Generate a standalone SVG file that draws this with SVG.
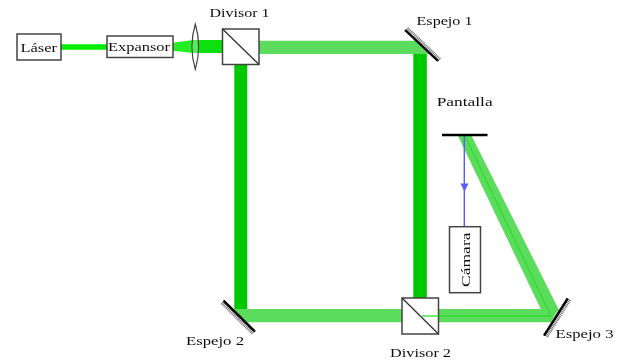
<svg xmlns="http://www.w3.org/2000/svg" width="618" height="360" viewBox="0 0 618 360">
<defs>
<filter id="soft" x="0" y="0" width="618" height="360" filterUnits="userSpaceOnUse"><feGaussianBlur stdDeviation="0.5"/></filter>
</defs>
<style>
text{font-family:"Liberation Serif","Times New Roman",serif;font-size:13.500px;fill:#111}
.box{fill:#fff;stroke:#444;stroke-width:1.500}
.mirror{stroke:#000;stroke-width:2.400;fill:none}
.shade{stroke:#777;stroke-width:4;stroke-dasharray:1 0.700;fill:none}
.dark{fill:#00c800}
.light{fill:#5cdc5c}
.core{stroke:#30dc30;stroke-width:1.300;fill:none}
.blue{stroke:#5a5aff;stroke-width:1.400;fill:none}
</style>
<rect width="618" height="360" fill="#fff"/>
<g filter="url(#soft)">
<g id="connectors">
<path d="M60 47H108" stroke="#00ee00" stroke-width="5.500" fill="none"/>
<path d="M173 42.700L193 40V53L173 50.700Z" fill="#22ee22"/>
<path d="M193 40H223V53H193Z" fill="#10e010"/>
<path class="dark" d="M234.300 64H247.300V324L234.300 311Z"/>
<path class="dark" d="M413.300 54H426.800V298H413.300Z"/>
<path class="light" d="M259 40.700H416L429 54H259Z"/>
<path class="light" d="M233 309H402V322.300H246Z"/>
<path class="light" d="M438 309H558L551 322.300H438Z"/>
<path class="light" d="M458 136H471.700L559 310L547 322Z"/>
<path class="core" d="M421.500 316H551L465 136"/>
<path class="blue" d="M464.300 135V227"/>
<path d="M460.500 183.500H468.500L464.500 191.500Z" fill="#5a5aff"/>
</g>
<g id="laser"><rect class="box" x="17" y="34" width="44" height="26"/><text x="20.500" y="52" textLength="36.500" lengthAdjust="spacingAndGlyphs">Láser</text></g>
<g id="expansor"><rect class="box" x="107" y="36" width="66" height="21.500" stroke="#666"/><text x="108" y="50.500" textLength="62" lengthAdjust="spacingAndGlyphs">Expansor</text></g>
<g id="lente"><path d="M195.300 24Q188.500 46.500 195.300 69.300Q202 46.500 195.300 24Z" fill="#fff" fill-opacity="0.300" stroke="#444" stroke-width="1.200"/></g>
<g id="divisor1"><rect class="box" x="222.500" y="29" width="36.500" height="35.500"/><path d="M222.500 29L259 64.500" stroke="#333" stroke-width="1.300"/><text x="209.500" y="17.300" textLength="60" lengthAdjust="spacingAndGlyphs">Divisor 1</text></g>
<g id="espejo1"><path class="shade" d="M407 28.500L440 60"/><path class="mirror" d="M405 30L438 61"/><text x="416.500" y="25" textLength="56" lengthAdjust="spacingAndGlyphs">Espejo 1</text></g>
<g id="pantalla"><path class="mirror" d="M442 135H487.500"/><text x="436.700" y="105.700" textLength="56" lengthAdjust="spacingAndGlyphs">Pantalla</text></g>
<g id="camara"><rect class="box" x="449.500" y="226.700" width="31" height="66"/><text transform="translate(470 287) rotate(-90)" textLength="54.500" lengthAdjust="spacingAndGlyphs">Cámara</text></g>
<g id="espejo2"><path class="shade" d="M222 302.500L253.500 333.500"/><path class="mirror" d="M223.500 300.700L255 331.700"/><text x="186" y="345" textLength="58" lengthAdjust="spacingAndGlyphs">Espejo 2</text></g>
<g id="divisor2"><rect class="box" x="402" y="298" width="36.500" height="36"/><path d="M402 298L438.500 334" stroke="#333" stroke-width="1.300"/><path d="M421.500 316H438.500" stroke="#30dc30" stroke-width="1.300"/><text x="390" y="356.500" textLength="61" lengthAdjust="spacingAndGlyphs">Divisor 2</text></g>
<g id="espejo3"><path class="shade" d="M569.500 299.500L546 337"/><path class="mirror" d="M567.700 298.300L544 335.700"/><text x="555.500" y="338.300" textLength="58" lengthAdjust="spacingAndGlyphs">Espejo 3</text></g>
</g>
</svg>
